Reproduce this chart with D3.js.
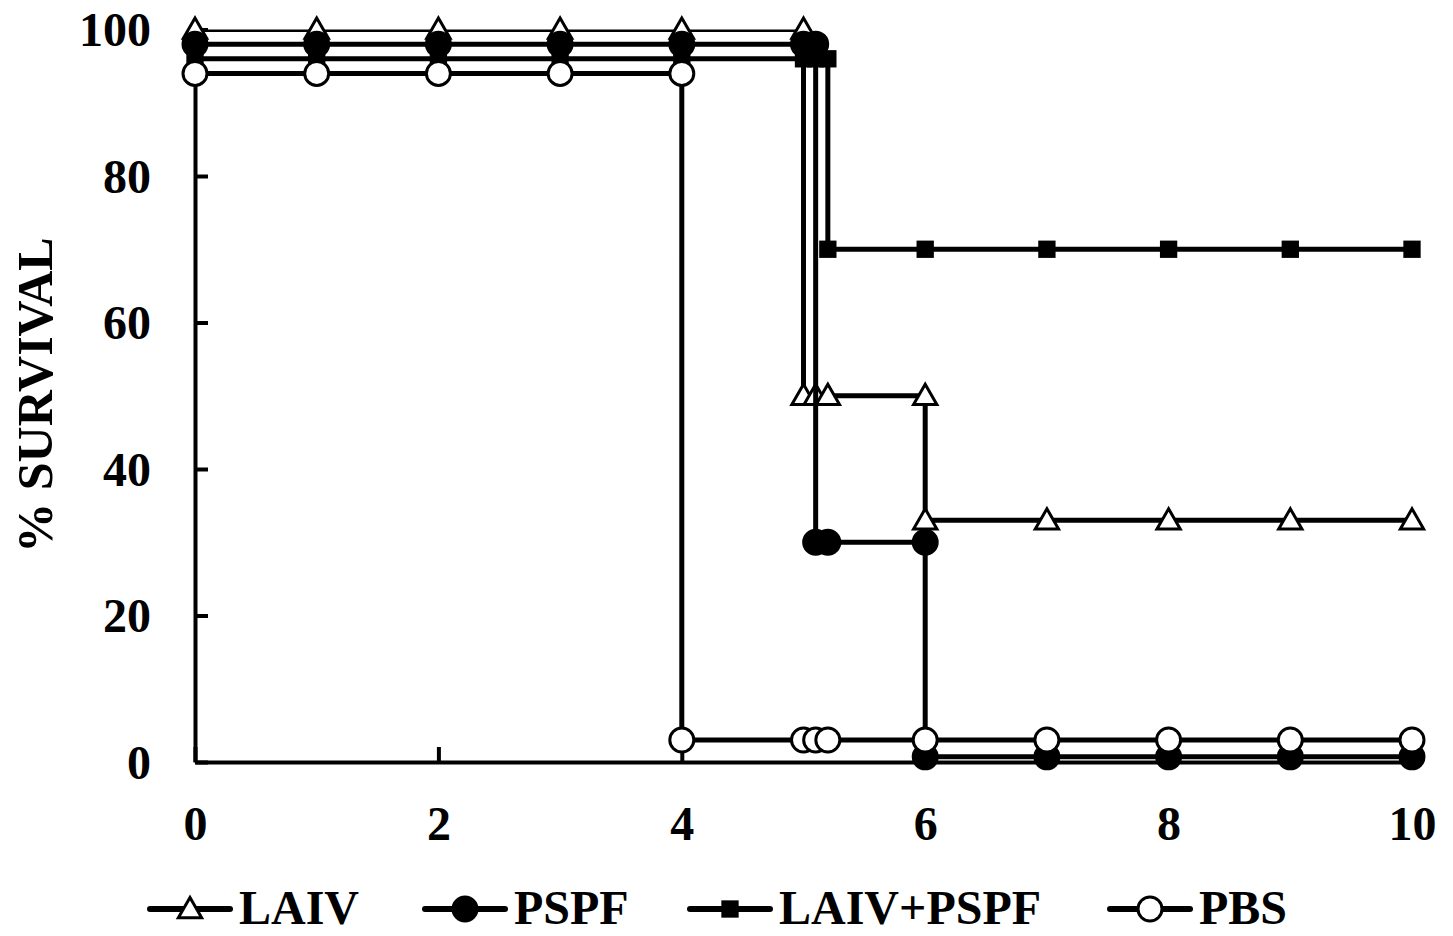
<!DOCTYPE html>
<html>
<head>
<meta charset="utf-8">
<script src="https://cdn.jsdelivr.net/npm/d3@7"></script>
<style>
  body { margin: 0; background: #fff; }
  svg { display: block; font-family: "Liberation Serif", "Times New Roman", serif; font-weight: bold; }
</style>
</head>
<body>
<div id="chart"></div>
<script>
// survival data, [day, % survival]; duplicated days make the steps
const laiv = [[0,100],[1,100],[2,100],[3,100],[4,100],[5,100],[5,50],[5.1,50],[5.2,50],[6,50],[6,33],[7,33],[8,33],[9,33],[10,33]];
const pspf = [[0,98],[1,98],[2,98],[3,98],[4,98],[5,98],[5.1,98],[5.1,30],[5.2,30],[6,30],[6,0.7],[7,0.7],[8,0.7],[9,0.7],[10,0.7]];
const laivPspf = [[0,96],[1,96],[2,96],[3,96],[4,96],[5,96],[5.1,96],[5.2,96],[5.2,70],[6,70],[7,70],[8,70],[9,70],[10,70]];
const pbs = [[0,94],[1,94],[2,94],[3,94],[4,94],[4,3],[5,3],[5.1,3],[5.2,3],[6,3],[7,3],[8,3],[9,3],[10,3]];

const seriesNames = ['LAIV', 'PSPF', 'LAIV+PSPF', 'PBS'];
const markerTypes = ['triangle', 'dot', 'square', 'circle'];
const xTicks = [0, 2, 4, 6, 8, 10];
const yTicks = [0, 20, 40, 60, 80, 100];

const width = 1453;
const height = 936;

const svg = d3.select('#chart')
    .append('svg')
    .attr('width', width)
    .attr('height', height);

const xScale = d3.scaleLinear().domain([0, 10]).range([195, 1412]);
const yScale = d3.scaleLinear().domain([0, 100]).range([762, 29.5]);

// lines are clipped to the plot area, markers are not
svg.append('clipPath')
    .attr('id', 'plot-clip')
    .append('rect')
    .attr('x', 0)
    .attr('y', yScale(100))
    .attr('width', width)
    .attr('height', yScale(0) - yScale(100) + 20);

// axes
const xAxis = svg.append('g')
    .attr('transform', `translate(0, ${yScale(0)})`)
    .call(d3.axisBottom(xScale).tickValues(xTicks).tickSizeInner(-15).tickSizeOuter(0).tickPadding(0).tickFormat(d3.format('d')));
xAxis.select('.domain').attr('stroke-width', 4);
xAxis.selectAll('.tick line').attr('stroke-width', 4);
xAxis.selectAll('.tick text')
    .attr('y', 78)
    .attr('dy', 0)
    .attr('font-size', 48)
    .attr('font-family', '"Liberation Serif", serif')
    .attr('font-weight', 'bold')
    .attr('fill', '#000');

const yAxis = svg.append('g')
    .attr('transform', `translate(${xScale(0)}, 0)`)
    .call(d3.axisLeft(yScale).tickValues(yTicks).tickSizeInner(-13).tickSizeOuter(0).tickPadding(0));
yAxis.select('.domain').attr('stroke-width', 4);
yAxis.selectAll('.tick line').attr('stroke-width', 4);
yAxis.selectAll('.tick text')
    .attr('x', -44)
    .attr('dy', '0.34em')
    .attr('font-size', 48)
    .attr('font-family', '"Liberation Serif", serif')
    .attr('font-weight', 'bold')
    .attr('fill', '#000');

svg.append('text')
    .attr('transform', 'translate(52, 395) rotate(-90)')
    .attr('text-anchor', 'middle')
    .attr('font-size', 50)
    .text('% SURVIVAL');

const drawMarker = (g, type, x, y) => {
    if (type === 'triangle') {
        g.append('path')
            .attr('d', d3.symbol(d3.symbolTriangle, 235)())
            .attr('transform', `translate(${x}, ${y + 2})`)
            .attr('fill', '#fff')
            .attr('stroke', '#000')
            .attr('stroke-width', 3);
    } else if (type === 'square') {
        g.append('path')
            .attr('d', d3.symbol(d3.symbolSquare, 300)())
            .attr('transform', `translate(${x}, ${y})`)
            .attr('fill', '#000');
    } else {
        g.append('circle')
            .attr('cx', x)
            .attr('cy', y)
            .attr('r', 12)
            .attr('fill', type === 'dot' ? '#000' : '#fff')
            .attr('stroke', '#000')
            .attr('stroke-width', 3);
    }
};

const line = d3.line()
    .x(d => xScale(d[0]))
    .y(d => yScale(d[1]));

[laiv, pspf, laivPspf, pbs].forEach((data, i) => {
    const g = svg.append('g');
    g.append('path')
        .datum(data)
        .attr('d', line)
        .attr('fill', 'none')
        .attr('stroke', '#000')
        .attr('stroke-width', 5)
        .attr('clip-path', 'url(#plot-clip)');
    data.forEach(d => drawMarker(g, markerTypes[i], xScale(d[0]), yScale(d[1])));
});

// legend
const legendX = [150, 425, 690, 1110];
const legendY = 909;
seriesNames.forEach((name, i) => {
    const g = svg.append('g');
    g.append('line')
        .attr('x1', legendX[i])
        .attr('x2', legendX[i] + 80)
        .attr('y1', legendY)
        .attr('y2', legendY)
        .attr('stroke', '#000')
        .attr('stroke-width', 6)
        .attr('stroke-linecap', 'round');
    drawMarker(g, markerTypes[i], legendX[i] + 40, legendY);
    g.append('text')
        .attr('x', legendX[i] + 89)
        .attr('y', 924)
        .attr('font-size', 48)
        .text(name);
});
</script>
</body>
</html>
